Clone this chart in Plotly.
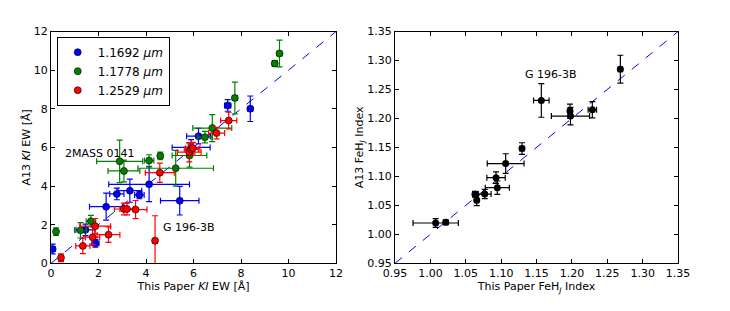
import plotly.graph_objects as go

# ---------------- Left panel data (K I EW) ----------------
blue_x    = [0.07, 1.45, 1.87, 2.32, 2.77, 3.32, 3.72, 4.13, 5.42, 5.90, 6.21, 7.44, 8.39]
blue_y    = [0.74, 1.73, 1.04, 2.93, 3.59, 3.76, 3.54, 4.09, 3.24, 6.00, 6.58, 8.17, 8.00]
blue_xerr = [0.10, 0.40, 0.15, 0.70, 0.30, 0.50, 0.20, 1.70, 0.81, 0.80, 0.50, 0.13, 0.10]
blue_yerr = [0.25, 0.30, 0.20, 0.70, 0.30, 0.60, 0.20, 0.90, 0.74, 0.40, 0.40, 0.30, 0.66]

green_x    = [0.21, 1.24, 1.68, 2.89, 3.07, 4.13, 4.60, 5.25, 5.83, 6.48, 6.79, 7.74, 9.42, 9.62]
green_y    = [1.64, 1.71, 2.18, 5.28, 4.78, 5.32, 5.56, 4.92, 5.58, 6.53, 7.00, 8.56, 10.34, 10.86]
green_xerr = [0.05, 0.25, 0.20, 0.97, 0.67, 0.20, 0.10, 1.59, 0.73, 0.30, 0.82, 0.10, 0.10, 0.10]
green_yerr = [0.20, 0.40, 0.30, 1.10, 0.56, 0.30, 0.20, 0.93, 0.60, 0.30, 0.70, 0.82, 0.15, 0.69]

red_x    = [0.42, 1.34, 1.75, 1.86, 2.42, 3.07, 3.20, 3.56, 4.38, 4.58, 5.82, 5.91, 5.97, 6.97, 7.48]
red_y    = [0.29, 0.90, 1.35, 1.92, 1.48, 2.81, 2.81, 2.78, 1.17, 4.69, 5.75, 5.90, 5.96, 6.74, 7.39]
red_xerr = [0.10, 0.30, 0.30, 0.65, 0.48, 0.40, 0.30, 0.48, 0.10, 0.61, 0.50, 0.30, 0.30, 0.34, 0.34]
red_yerr = [0.20, 0.40, 0.40, 0.40, 0.40, 0.30, 0.30, 0.47, 1.29, 0.50, 0.50, 0.30, 0.30, 0.30, 0.43]

legend_names = ["1.1692 <i>μm</i>", "1.1778 <i>μm</i>", "1.2529 <i>μm</i>"]
left_line = [0, 12]

# ---------------- Right panel data (FeH_J index) ----------------
feh_x    = [1.0075, 1.0217, 1.063, 1.0655, 1.0768, 1.0946, 1.0928, 1.1064, 1.1295, 1.1568, 1.1973, 1.1980, 1.2289, 1.2685]
feh_y    = [1.0195, 1.0207, 1.069, 1.0586, 1.0695, 1.0805, 1.0978, 1.1220, 1.1480, 1.2310, 1.2126, 1.2040, 1.2150, 1.2850]
feh_xerr = [0.032, 0.003, 0.003, 0.003, 0.009, 0.017, 0.013, 0.026, 0.003, 0.011, 0.003, 0.027, 0.006, 0.003]
feh_yerr = [0.0075, 0.004, 0.005, 0.009, 0.008, 0.0115, 0.010, 0.017, 0.010, 0.029, 0.012, 0.015, 0.014, 0.024]
right_line = [0.95, 1.35]

FONT = "DejaVu Sans"
fig = go.Figure()

def add_series(x, y, xe, ye, color, name):
    fig.add_trace(go.Scatter(
        x=x, y=y, mode="markers", name=name,
        marker=dict(color=color, size=7, line=dict(color="black", width=0.6)),
        error_x=dict(type="data", array=xe, color=color, thickness=1.2, width=3),
        error_y=dict(type="data", array=ye, color=color, thickness=1.2, width=3),
        xaxis="x", yaxis="y"))

fig.add_trace(go.Scatter(x=left_line, y=left_line, mode="lines", showlegend=False,
                         line=dict(color="blue", dash="dash", width=1), xaxis="x", yaxis="y"))
add_series(blue_x, blue_y, blue_xerr, blue_yerr, "blue", legend_names[0])
add_series(green_x, green_y, green_xerr, green_yerr, "green", legend_names[1])
add_series(red_x, red_y, red_xerr, red_yerr, "red", legend_names[2])

fig.add_trace(go.Scatter(x=right_line, y=right_line, mode="lines", showlegend=False,
                         line=dict(color="blue", dash="dash", width=1), xaxis="x2", yaxis="y2"))
fig.add_trace(go.Scatter(
    x=feh_x, y=feh_y, mode="markers", showlegend=False,
    marker=dict(color="black", size=7),
    error_x=dict(type="data", array=feh_xerr, color="black", thickness=1.2, width=3),
    error_y=dict(type="data", array=feh_yerr, color="black", thickness=1.2, width=3),
    xaxis="x2", yaxis="y2"))

axis_common = dict(showline=True, linecolor="black", linewidth=1, mirror="ticks",
                   ticks="inside", ticklen=4, tickcolor="black", showgrid=False,
                   zeroline=False, automargin=False,
                   tickfont=dict(family=FONT, size=11, color="black"))

fig.update_layout(
    width=730, height=311, margin=dict(l=0, r=0, t=0, b=0, autoexpand=False),
    paper_bgcolor="white", plot_bgcolor="white",
    font=dict(family=FONT, size=11, color="black"),
    xaxis=dict(domain=[0.0699, 0.4603], range=[0, 12], tickvals=[0, 2, 4, 6, 8, 10, 12],
               title=dict(text="This Paper <i>KI</i> EW [Å]", standoff=2,
                          font=dict(family=FONT, size=11)), anchor="y", **axis_common),
    yaxis=dict(domain=[0.1534, 0.8987], range=[0, 12], tickvals=[0, 2, 4, 6, 8, 10, 12],
               title=dict(text="A13 <i>KI</i> EW [Å]", standoff=0,
                          font=dict(family=FONT, size=11)), anchor="x", **axis_common),
    xaxis2=dict(domain=[0.5411, 0.9288], range=[0.95, 1.35],
                tickvals=[0.95, 1.0, 1.05, 1.1, 1.15, 1.2, 1.25, 1.3, 1.35], tickformat=".2f",
                title=dict(text="This Paper FeH<sub><i>J</i></sub> Index", standoff=2,
                           font=dict(family=FONT, size=11)), anchor="y2", **axis_common),
    yaxis2=dict(domain=[0.1534, 0.8987], range=[0.95, 1.35],
                tickvals=[0.95, 1.0, 1.05, 1.1, 1.15, 1.2, 1.25, 1.3, 1.35], tickformat=".2f",
                title=dict(text="A13 FeH<sub><i>J</i></sub> Index", standoff=0,
                           font=dict(family=FONT, size=11)), anchor="x2", **axis_common),
    legend=dict(x=0.0777, y=0.882, xanchor="left", yanchor="top",
                bordercolor="black", borderwidth=1, bgcolor="white",
                font=dict(family=FONT, size=12), itemsizing="trace"),
    annotations=[
        dict(x=0.5, y=5.7, xref="x", yref="y", text="2MASS 0141", showarrow=False,
             xanchor="left", yanchor="middle", font=dict(family=FONT, size=11)),
        dict(x=4.63, y=1.86, xref="x", yref="y", text="G 196-3B", showarrow=False,
             xanchor="left", yanchor="middle", font=dict(family=FONT, size=11)),
        dict(x=1.1305, y=1.276, xref="x2", yref="y2", text="G 196-3B", showarrow=False,
             xanchor="left", yanchor="middle", font=dict(family=FONT, size=11)),
    ],
)

fig.write_html("out.html", config={"displayModeBar": False},
               post_script="document.body.style.margin='0';document.body.style.overflow='hidden';")
